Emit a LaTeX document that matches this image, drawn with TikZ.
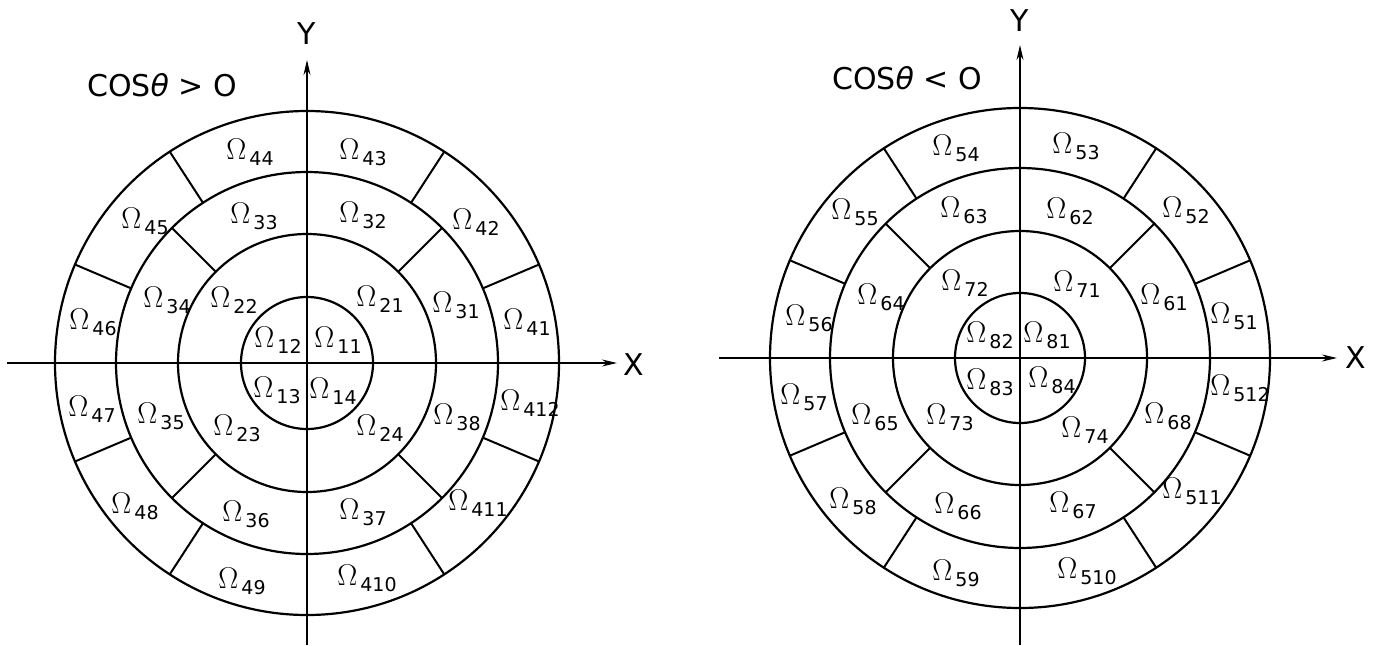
\RequirePackage{fix-cm}
\documentclass[tikz,border=0pt]{standalone}
\usepackage{fontspec}
\setmainfont{DejaVu Sans}
\usetikzlibrary{arrows.meta}
\newcommand{\om}[1]{{\fontsize{30}{30}\selectfont$\Omega$}\kern3pt\raisebox{-6pt}{\fontsize{19}{19}\selectfont #1}}
\tikzset{
  ring/.style={line width=2.2pt},
  axisline/.style={line width=1.5pt,-{Stealth[length=15pt,width=7pt]}},
  divline/.style={line width=2pt},
  lab/.style={inner sep=0pt,anchor=center},
  big/.style={inner sep=0pt,font=\fontsize{30}{30}\selectfont},
}
\begin{document}
\begin{tikzpicture}[x=1pt,y=-1pt]
\useasboundingbox (0,0) rectangle (1380,645);
% ---------- left diagram ----------
\begin{scope}[shift={(307,363)}]
  \foreach \r in {66,129,191,252} \draw[ring] (0,0) circle (\r pt);
  \foreach \a in {45,135,225,315} \draw[divline] (\a:129pt) -- (\a:191pt);
  \foreach \a in {23,57,123,157,203,237,303,337} \draw[divline] (\a:191pt) -- (\a:252pt);
\end{scope}
\coordinate (lyb) at (307,645);
\coordinate (lyt) at (307,60);
\coordinate (lxl) at (7,363);
\coordinate (lxr) at (617,363);
\draw[axisline] (lyb) -- (lyt);
\draw[axisline] (lxl) -- (lxr);
\node[big] (lY) at (307,34) {Y};
\node[big] (lX) at (634,365) {X};
\node[big] (lcos) at (162,85) {COS{\itshape θ} > O};
\foreach \n/\x/\y in {44/250/152,43/363/152,45/145/221,33/254/216,32/363/215,42/476/222,
  34/167/300,22/234/300,21/380/299,31/456/305,41/527/322,46/93/322,12/278/340,11/338/340,
  13/277/390,14/333/391,47/92/409,35/161/416,23/237/428,24/380/428,38/457/417,412/530/403,
  48/135/506,36/246/514,37/363/512,411/478/503,49/242/581,410/367/578}
  \node[lab] (l\n) at (\x,\y) {\om{\n}};
% ---------- right diagram ----------
\begin{scope}[shift={(1020,358)}]
  \foreach \r in {65,127,190,250} \draw[ring] (0,0) circle (\r pt);
  \foreach \a in {45,135,225,315} \draw[divline] (\a:127pt) -- (\a:190pt);
  \foreach \a in {23,57,123,157,203,237,303,337} \draw[divline] (\a:190pt) -- (\a:250pt);
\end{scope}
\coordinate (ryb) at (1020,645);
\coordinate (ryt) at (1020,45);
\coordinate (rxl) at (719,358);
\coordinate (rxr) at (1337,358);
\draw[axisline] (ryb) -- (ryt);
\draw[axisline] (rxl) -- (rxr);
\node[big] (rY) at (1020,21) {Y};
\node[big] (rX) at (1356,358) {X};
\node[big] (rcos) at (907,78) {COS{\itshape θ} < O};
\foreach \n/\x/\y in {54/956/148,53/1076/146,55/855/212,63/964/210,62/1070/211,52/1186/210,
  64/881/297,72/965/283,71/1077/284,61/1164/297,51/1234/316,56/809/318,82/990/335,81/1047/335,
  83/990/382,84/1052/380,57/804/397,65/875/417,73/950/417,74/1085/430,68/1168/416,512/1240/388,
  58/853/501,66/958/506,67/1073/505,511/1192/491,59/956/573,510/1087/571}
  \node[lab] (r\n) at (\x,\y) {\om{\n}};
\end{tikzpicture}
\end{document}
